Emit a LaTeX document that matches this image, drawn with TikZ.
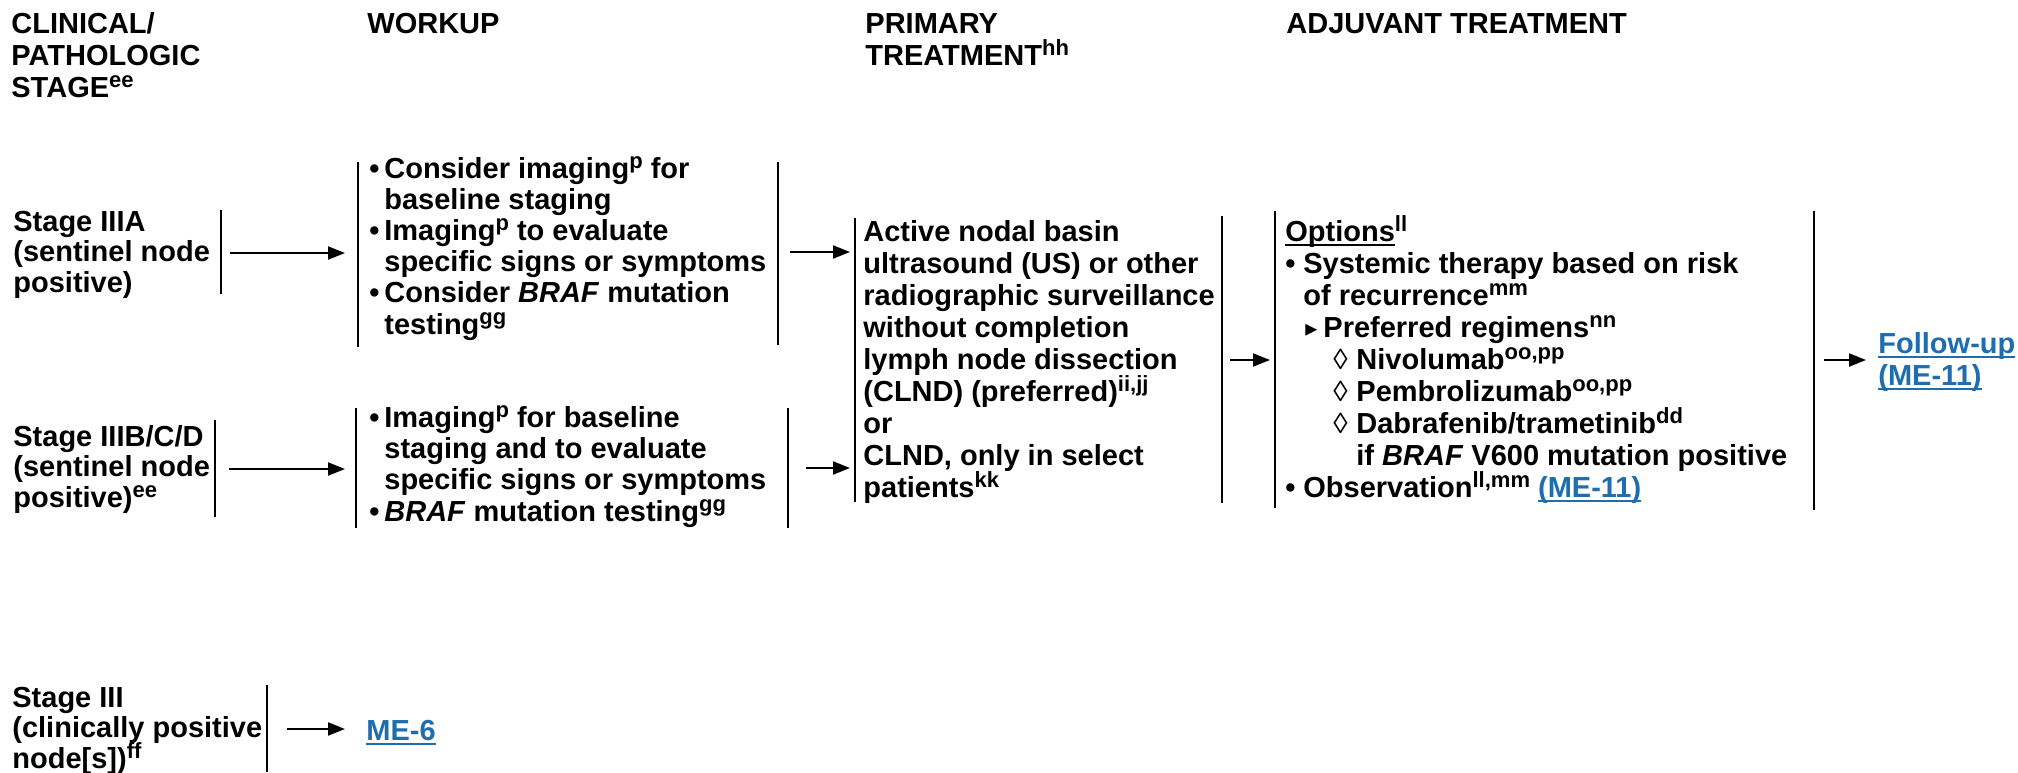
\documentclass[tikz,border=0pt]{standalone}
\usepackage{fontspec}
\setmainfont{Liberation Sans}
\newfontfamily\djv{DejaVu Sans}
\usetikzlibrary{arrows.meta}
\definecolor{linkblue}{RGB}{30,110,175}
\setlength\lineskiplimit{-20pt}
\newcommand\sups[1]{\raisebox{5pt}{\fontsize{11}{11}\selectfont #1}}
\newcommand\ulx[1]{\setbox0\hbox{#1}\rlap{\rule[-2.6pt]{\wd0}{0.9pt}}\box0}
\newcommand\bul{\makebox[9pt][l]{•}}
\newcommand\wbul{\makebox[7.5pt][l]{•}}
\newcommand\tri{\makebox[9pt][l]{\djv\fontsize{12}{12}\selectfont\raisebox{0.5pt}{▸}}}
\newcommand\dia{\makebox[11.5pt][l]{\mdseries ◊}}
\begin{document}
\begin{tikzpicture}[x=0.5pt,y=-0.5pt,
  txt/.style={anchor=base west, inner sep=0pt, align=left,
    font=\bfseries\fontsize{14.5}{16}\selectfont},
  stg/.style={txt, font=\bfseries\fontsize{14.5}{15.25}\selectfont},
  wrk/.style={txt, font=\bfseries\fontsize{14.5}{15.6}\selectfont},
  bar/.style={line width=1.2pt},
  arr/.style={line width=1pt, -{Triangle[length=8.5pt,width=6.5pt]}},
  lnk/.style={txt, text=linkblue}]
\useasboundingbox (0,0) rectangle (2018,772);

% (node positions are the baselines of the LAST lines)
% headers
\node[txt] (h1) at (11,97) {CLINICAL/\\PATHOLOGIC\\STAGE\sups{ee}};
\node[txt] (h2) at (367,33) {WORKUP};
\node[txt] (h3) at (865,65) {PRIMARY\\TREATMENT\sups{hh}};
\node[txt] (h4) at (1286,33) {ADJUVANT TREATMENT};

% stage nodes
\node[stg] (s1) at (13,292) {Stage IIIA\\(sentinel node\\positive)};
\node[stg] (s2) at (13,507) {Stage IIIB/C/D\\(sentinel node\\positive)\sups{ee}};
\node[stg] (s3) at (12,768) {Stage III\\(clinically positive\\node[s])\sups{ff}};

% workup
\node[wrk] (w1) at (369,334) {\wbul Consider imaging\sups{p} for\\
\hspace*{7.5pt}baseline staging\\
\wbul Imaging\sups{p} to evaluate\\
\hspace*{7.5pt}specific signs or symptoms\\
\wbul Consider \textit{BRAF} mutation\\
\hspace*{7.5pt}testing\sups{gg}};
\node[wrk] (w2) at (369,521) {\wbul Imaging\sups{p} for baseline\\
\hspace*{7.5pt}staging and to evaluate\\
\hspace*{7.5pt}specific signs or symptoms\\
\wbul\textit{BRAF} mutation testing\sups{gg}};

% primary
\node[txt] (p) at (863,497) {Active nodal basin\\ultrasound (US) or other\\radiographic surveillance\\without completion\\lymph node dissection\\(CLND) (preferred)\sups{ii,jj}\\or\\CLND, only in select\\patients\sups{kk}};

% adjuvant
\node[txt] (a) at (1285,497) {\ulx{Options}\sups{ll}\\
\bul Systemic therapy based on risk\\
\hspace*{9pt}of recurrence\sups{mm}\\
\hspace*{10pt}\tri Preferred regimens\sups{nn}\\
\hspace*{24pt}\dia Nivolumab\sups{oo,pp}\\
\hspace*{24pt}\dia Pembrolizumab\sups{oo,pp}\\
\hspace*{24pt}\dia Dabrafenib/trametinib\sups{dd}\\
\hspace*{35.5pt}if \textit{BRAF} V600 mutation positive\\
\bul Observation\sups{ll,mm} {\color{linkblue}\ulx{(ME-11)}}};

% links
\node[lnk] (f) at (1878,385) {\ulx{Follow-up}\\\ulx{(ME-11)}};
\node[lnk] (m6) at (366,740) {\ulx{ME-6}};

% bars
\draw[bar] (221,210) -- (221,294);
\draw[bar] (215,420) -- (215,517);
\draw[bar] (267,685) -- (267,772);
\draw[bar] (358,162) -- (358,347);
\draw[bar] (778,162) -- (778,345);
\draw[bar] (356,408) -- (356,528);
\draw[bar] (788,408) -- (788,528);
\draw[bar] (855,218) -- (855,502);
\draw[bar] (1222,216) -- (1222,503);
\draw[bar] (1275,211) -- (1275,508);
\draw[bar] (1814,211) -- (1814,510);

% arrow end points
\coordinate (s1o) at (230,253);  \coordinate (w1i) at (345,253);
\coordinate (s2o) at (229,469);  \coordinate (w2i) at (345,469);
\coordinate (w1o) at (790,252);  \coordinate (p1i) at (850,252);
\coordinate (w2o) at (806,468);  \coordinate (p2i) at (850,468);
\coordinate (po)  at (1230,360); \coordinate (ai)  at (1270,360);
\coordinate (ao)  at (1824,360); \coordinate (fi)  at (1866,360);
\coordinate (s3o) at (287,729);  \coordinate (mi)  at (345,729);

\draw[arr] (s1o) -- (w1i);
\draw[arr] (s2o) -- (w2i);
\draw[arr] (w1o) -- (p1i);
\draw[arr] (w2o) -- (p2i);
\draw[arr] (po) -- (ai);
\draw[arr] (ao) -- (fi);
\draw[arr] (s3o) -- (mi);
\end{tikzpicture}
\end{document}
